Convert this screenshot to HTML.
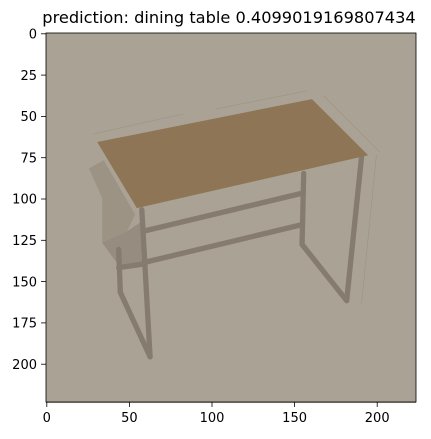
<!DOCTYPE html>
<html><head><meta charset="utf-8"><style>
body{margin:0;background:#fff;width:431px;height:435px;overflow:hidden;font-family:"DejaVu Sans","Liberation Sans",sans-serif}
</style></head><body>
<svg width="431" height="435" xmlns="http://www.w3.org/2000/svg">
<text x="229" y="23" font-size="16.2" text-anchor="middle" fill="#000">prediction: dining table 0.4099019169807434</text>
<g id="img" transform="translate(46,33) scale(1.652)">
<rect x="0" y="0" width="224" height="224" fill="#aaa294"/>
<g stroke="#9d9486" stroke-width="0.4" fill="none">
<line x1="29" y1="61" x2="83" y2="49"/><line x1="103" y1="46" x2="158" y2="35"/>
<line x1="168" y1="38" x2="202" y2="72"/><line x1="200" y1="74" x2="191" y2="164"/>
</g>
<polygon points="26,82 35,77 54,110 49,120 34,127 34,100" fill="#9d9385"/>
<polygon points="34,127 45,142 58,140 58,114 49,120" fill="#968c7f"/>
<g stroke="#857b6e" stroke-width="3.2" stroke-linecap="round" fill="none">
<line x1="58" y1="107" x2="63" y2="196"/>
<line x1="191" y1="75" x2="182" y2="162"/>
<line x1="156" y1="85" x2="155" y2="128"/>
<line x1="44" y1="131" x2="45" y2="157"/>
<line x1="155" y1="128" x2="182" y2="162"/>
<line x1="45" y1="157" x2="63" y2="196"/>
<line x1="59" y1="120" x2="155" y2="97"/>
<line x1="59" y1="139" x2="155" y2="116"/>
<line x1="44" y1="142" x2="58" y2="140"/>
</g>
<polygon points="31,66 161,40 195,74 55,106" fill="#8e7556"/>
</g>
<rect x="46" y="33" width="370" height="369" fill="none" stroke="#000" stroke-width="0.8"/>
<g font-size="13" fill="#000">
<g stroke="#000" stroke-width="0.8">
<line x1="46.8" y1="402" x2="46.8" y2="407"/><line x1="129.4" y1="402" x2="129.4" y2="407"/><line x1="212" y1="402" x2="212" y2="407"/><line x1="294.6" y1="402" x2="294.6" y2="407"/><line x1="377.2" y1="402" x2="377.2" y2="407"/>
</g>
<g text-anchor="middle">
<text x="46.8" y="422">0</text><text x="129.4" y="422">50</text><text x="212" y="422">100</text><text x="294.6" y="422">150</text><text x="377.2" y="422">200</text>
</g></g>
<g font-size="13" fill="#000" text-anchor="end">
<g stroke="#000" stroke-width="0.8">
<line x1="41" y1="33.8" x2="46" y2="33.8"/><line x1="41" y1="75.1" x2="46" y2="75.1"/><line x1="41" y1="116.4" x2="46" y2="116.4"/><line x1="41" y1="157.7" x2="46" y2="157.7"/><line x1="41" y1="199" x2="46" y2="199"/><line x1="41" y1="240.3" x2="46" y2="240.3"/><line x1="41" y1="281.6" x2="46" y2="281.6"/><line x1="41" y1="322.9" x2="46" y2="322.9"/><line x1="41" y1="364.2" x2="46" y2="364.2"/>
</g>
<text x="37" y="38.5">0</text><text x="37" y="79.8">25</text><text x="37" y="121.1">50</text><text x="37" y="162.4">75</text><text x="37" y="203.7">100</text><text x="37" y="245">125</text><text x="37" y="286.3">150</text><text x="37" y="327.6">175</text><text x="37" y="368.9">200</text>
</g>
</svg>
</body></html>
